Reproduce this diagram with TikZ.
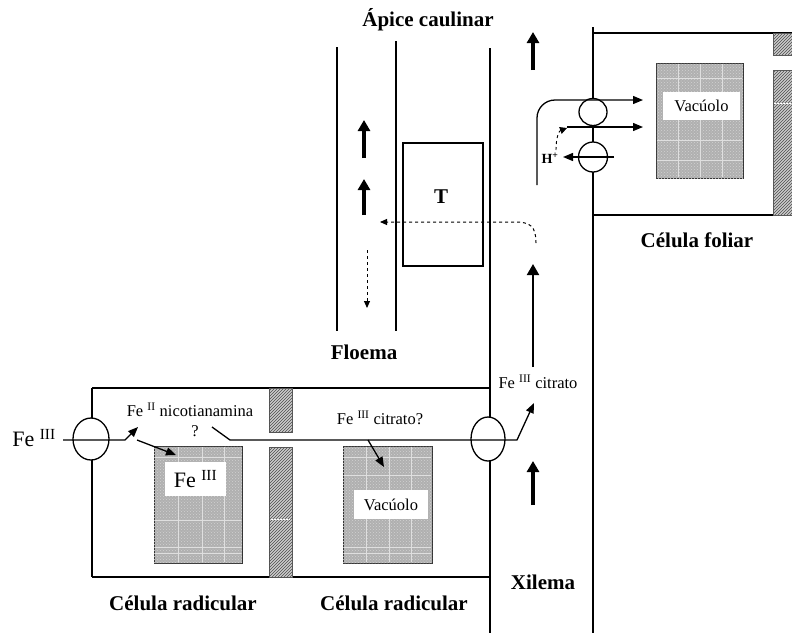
\documentclass[tikz,border=0pt]{standalone}
\usepackage{fontspec}
\setmainfont{Liberation Serif}
\usetikzlibrary{arrows.meta,patterns,shapes.geometric}
\tikzset{
  memb/.style={line width=1.3pt},
  wallbox/.style={draw=black!65, line width=0.8pt, fill=gray!40,
    postaction={pattern=north east lines, pattern color=black!70}},
  vac/.style={draw=black!80, line width=1pt, fill=gray!62,
    postaction={pattern=crosshatch dots, pattern color=gray!35},
    inner sep=0pt},
  grid/.style={white!75!gray, line width=0.6pt},
  vlabel/.style={fill=white, inner sep=0pt, font=\fontsize{16.5}{18}\selectfont},
  bigl/.style={font=\bfseries\fontsize{21}{24}\selectfont, inner sep=0pt},
  sm/.style={font=\fontsize{16.5}{18}\selectfont, inner sep=0pt},
  carrier/.style={draw, line width=1.3pt, fill=white, ellipse, inner sep=0pt},
  fatarrow/.style={line width=3.2pt, -{Triangle[width=12pt,length=11pt]}},
  flow/.style={line width=1.3pt, -{Triangle[width=8pt,length=10pt]}},
  dashflow/.style={line width=1pt, dashed, -{Triangle[width=6pt,length=7pt]}},
}
\begin{document}
\begin{tikzpicture}[x=1pt,y=-1pt]
\useasboundingbox (0,0) rectangle (792,633);

% ---------- phloem and xylem lines ----------
\draw[memb] (337,47) -- (337,331);
\draw[memb] (396,41) -- (396,331);
\draw[memb] (490,48) -- (490,633);
\draw[memb] (593,27) -- (593,633);

\node[bigl] (apice) at (428,20) {Ápice caulinar};
\node[bigl] (floema) at (364,352) {Floema};
\node[bigl] (xilema) at (543,582) {Xilema};

% phloem arrows
\coordinate (pa1s) at (364,158); \coordinate (pa1e) at (364,120);
\coordinate (pa2s) at (364,215); \coordinate (pa2e) at (364,179);
\coordinate (pa3s) at (367,250); \coordinate (pa3e) at (367,308);
\draw[fatarrow] (pa1s) -- (pa1e);
\draw[fatarrow] (pa2s) -- (pa2e);
\draw[dashflow] (pa3s) -- (pa3e);

% T box
\node[draw, line width=1.3pt, minimum width=80pt, minimum height=123pt, inner sep=0pt] (tbox) at (443,204.5) {};
\node[bigl] (tlab) at (441,197) {T};

% dashed transfer arrow
\coordinate (ds) at (536,243);
\coordinate (de) at (380,222);
\draw[dashflow] (ds) .. controls (536,226) and (530,222) .. (515,222) -- (de);

% xylem arrows
\coordinate (xa1s) at (533,70); \coordinate (xa1e) at (533,32);
\coordinate (xa2s) at (533,367); \coordinate (xa2e) at (533,264);
\coordinate (xa3s) at (533,505); \coordinate (xa3e) at (533,461);
\draw[fatarrow] (xa1s) -- (xa1e);
\draw[line width=2pt, -{Triangle[width=12pt,length=11pt]}] (xa2s) -- (xa2e);
\draw[fatarrow] (xa3s) -- (xa3e);

% ---------- leaf cell ----------
\draw[memb] (593,33) -- (792,33);
\draw[memb] (593,215) -- (792,215);
\fill[wallbox, draw=none] (773,33) rectangle (792,55);
\draw[black!65, line width=0.8pt] (792,33) -- (773,33) -- (773,55) -- (792,55);
\fill[wallbox, draw=none] (773,70) rectangle (792,215);
\draw[black!65, line width=0.8pt] (792,70) -- (773,70) -- (773,215) -- (792,215);
\draw[white, line width=0.6pt, dash pattern=on 2pt off 1pt] (774,103) -- (791,103);

\node[vac, minimum width=87pt, minimum height=115pt] (vleaf) at (699.5,120.5) {};
\draw[grid] (678,64) -- (678,177) (700,64) -- (700,177) (722,64) -- (722,177)
  (657,78) -- (742,78) (657,140) -- (742,140) (657,160) -- (742,160);
\node[vlabel, minimum width=77pt, minimum height=28pt] (vleaflab) at (701.5,106) {Vacúolo};
\node[bigl] (foliar) at (697,240) {Célula foliar};

\node[carrier, minimum width=28pt, minimum height=27pt] (c1) at (593,112) {};
\node[carrier, minimum width=29pt, minimum height=30pt] (c2) at (593,157) {};

\coordinate (l1s) at (537,185); \coordinate (l1c) at (537,100); \coordinate (l1e) at (643,100);
\draw[flow, rounded corners=18pt] (l1s) -- (l1c) -- (l1e);
\coordinate (l2s) at (567,127); \coordinate (l2e) at (643,127);
\draw[flow] (l2s) -- (l2e);
\coordinate (hs) at (614,157); \coordinate (he) at (563,157);
\draw[flow] (hs) -- (he);
\node[font=\bfseries\fontsize{14}{16}\selectfont, inner sep=0pt] (hplus) at (550,158) {H\textsuperscript{+}};
\coordinate (hd1) at (556,150);
\coordinate (hd2) at (567,128);
\draw[line width=0.9pt, dashed, -{Triangle[width=7pt,length=7pt]}] (hd1) .. controls (556,137) and (559,131) .. (hd2);

% ---------- root cells ----------
\draw[memb] (92,388) -- (490,388);
\draw[memb] (92,577) -- (490,577);
\draw[memb] (92,388) -- (92,577);

% walls
\node[wallbox, minimum width=23pt, minimum height=44pt, inner sep=0pt] (w1) at (280.5,410) {};
\node[wallbox, minimum width=23pt, minimum height=130pt, inner sep=0pt] (w2) at (280.5,512) {};
\draw[white, line width=0.7pt, dash pattern=on 2pt off 1pt] (271,519) -- (290,519);

% vacuoles
\node[vac, minimum width=88pt, minimum height=117pt] (vr1) at (198,504.5) {};
\draw[grid] (178,447) -- (178,562) (202,447) -- (202,562) (224,447) -- (224,562)
  (155,457) -- (241,457) (155,520) -- (241,520) (155,547) -- (241,547) (155,553) -- (241,553);
\node[vlabel, minimum width=61pt, minimum height=34pt, font=\fontsize{22}{24}\selectfont] (vr1lab) at (195.5,479) {Fe \textsuperscript{III}};
\node[vac, minimum width=89pt, minimum height=117pt] (vr2) at (387.5,504.5) {};
\draw[grid] (366,447) -- (366,562) (389,447) -- (389,562) (411,447) -- (411,562)
  (344,457) -- (431,457) (344,475) -- (431,475) (344,547) -- (431,547) (344,553) -- (431,553);
\node[vlabel, minimum width=74pt, minimum height=29pt] (vr2lab) at (391,504.5) {Vacúolo};

% carriers in root
\node[carrier, minimum width=36pt, minimum height=42pt] (cl) at (91,439) {};
\node[carrier, minimum width=34pt, minimum height=44pt] (cr) at (488,439) {};

\node[inner sep=0pt, font=\fontsize{22}{24}\selectfont] (feext) at (34,438) {Fe \textsuperscript{III}};
\node[sm] (fenic) at (190,410) {Fe \textsuperscript{II} nicotianamina};
\node[sm] (qm) at (195,431) {?};
\node[sm] (fecit) at (380,418) {Fe \textsuperscript{III} citrato?};
\node[sm] (fecitx) at (538,382) {Fe \textsuperscript{III} citrato};

\coordinate (r1s) at (63,440); \coordinate (r1b) at (125,440); \coordinate (r1e) at (138,427);
\draw[flow] (r1s) -- (r1b) -- (r1e);
\coordinate (r2s) at (137,440); \coordinate (r2e) at (176,455);
\draw[flow] (r2s) -- (r2e);
\coordinate (r3s) at (212,427); \coordinate (r3b) at (230,440); \coordinate (r3c) at (517,440); \coordinate (r3e) at (534,403);
\draw[flow] (r3s) -- (r3b) -- (r3c) -- (r3e);
\coordinate (r4s) at (368,440); \coordinate (r4e) at (384,467);
\draw[flow] (r4s) -- (r4e);

\node[bigl] (rad1) at (183,603) {Célula radicular};
\node[bigl] (rad2) at (394,603) {Célula radicular};
\end{tikzpicture}
\end{document}
